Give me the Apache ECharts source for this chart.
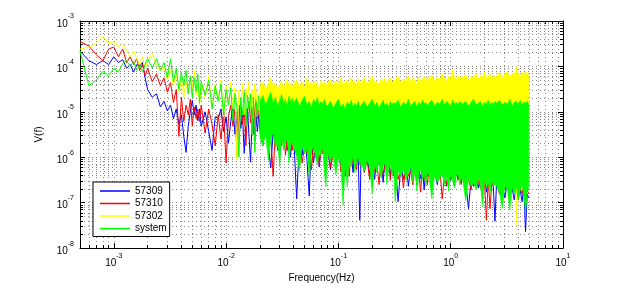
<!DOCTYPE html>
<html><head><meta charset="utf-8">
<script src="https://cdn.jsdelivr.net/npm/echarts@6/dist/echarts.min.js"></script>
<style>html,body{margin:0;padding:0;background:#fff}#c{width:621px;height:288px}</style>
</head><body><div id="c"></div>
<script>
// ---- data ----
const seriesNames = ['57309', '57310', '57302', 'system'];
const xTickLabels = ['10^-3', '10^-2', '10^-1', '10^0', '10^1'];
const yTickLabels = ['10^-8', '10^-7', '10^-6', '10^-5', '10^-4', '10^-3'];

// low-frequency part (individual lines)
const lowFreq = [0.0005,0.0006,0.0007,0.0008,0.0009,0.001,0.0011,0.0012,0.0013,0.0014,0.0015,0.0016,0.0017,0.0018,0.0019,0.002,
0.0022,0.0024,0.0026,0.0028,0.003,0.0032,0.0034,0.0036,0.0038,0.004,0.0042,0.0044,0.0046,0.0048,0.005,0.0052,0.0054,0.0056,0.0058,0.006,
0.0065,0.007,0.0075,0.008,0.0085,0.009,0.0095,0.01,0.0105,0.011,0.0115,0.012,0.0125,0.013,0.0135,0.014,0.0145,0.015,0.0155,0.016,0.0165,0.017,0.0175,0.018,0.0185,0.019,0.0195];
const blueLow = [2.19e-4,1.34e-4,1.1e-4,1.34e-4,1.1e-4,1.63e-4,1.22e-4,1.41e-4,9.1e-5,1.1e-4,7.5e-5,1.1e-4,1.0e-4,1.22e-4,5.6e-5,3.1e-5,
2.1e-5,2.5e-5,1.28e-5,1.7e-5,1.05e-5,1.41e-5,7.1e-6,1.16e-5,5.3e-6,8.6e-6,2.9e-6,1.28e-6,4.8e-6,1.0e-5,1.8e-5,8.6e-6,1.41e-5,6.4e-6,1.16e-5,4.8e-6,
1.0e-5,3.7e-6,1.41e-6,7.8e-6,7.1e-6,1.16e-5,3.7e-6,7.8e-6,2.1e-6,6.1e-6,1.28e-5,3.2e-6,7.1e-6,1.41e-5,4.3e-6,8.6e-6,1.22e-6,6.4e-6,1.16e-5,2.9e-6,7.8e-7,5.3e-6,1.0e-5,2.3e-6,7.8e-6,3.7e-6,8.6e-6];
const redLow = [3.57e-4,2.8e-4,1.8e-4,1.34e-4,2.42e-4,2.67e-4,1.63e-4,2.42e-4,1.22e-4,1.63e-4,1.1e-4,1.48e-4,8.2e-5,1.1e-4,6.1e-5,9.1e-5,
4.6e-5,6.8e-5,3.75e-5,5.6e-5,2.7e-5,4.4e-5,1.6e-5,3.1e-5,2.9e-6,2.1e-5,6.1e-6,1.41e-5,8.6e-6,1.89e-5,4.8e-6,1.28e-5,7.1e-6,1.16e-5,6.1e-6,1.41e-5,
3.4e-6,1.16e-5,5.3e-6,1.8e-6,8.6e-6,2.5e-6,1.0e-5,7.5e-7,7.8e-6,1.41e-5,4.8e-6,1.16e-5,1.1e-6,8.6e-6,1.6e-5,5.3e-6,1.16e-5,1.8e-6,9.5e-6,1.71e-5,5.8e-6,1.28e-5,3.2e-6,1.16e-5,2.1e-5,7.1e-6,1.41e-5];
const yellowLow = [2.42e-4,2.67e-4,3.24e-4,4.6e-4,3.24e-4,3.57e-4,2.67e-4,3.24e-4,2.19e-4,1.63e-4,2.19e-4,1.48e-4,1.1e-4,1.63e-4,9.1e-5,1.34e-4,
1.9e-4,1.1e-4,7.5e-5,1.0e-4,5.0e-5,8.2e-5,3.75e-5,6.8e-5,2.8e-5,5.6e-5,2.1e-5,4.6e-5,2.5e-5,6.1e-5,3.1e-5,8.2e-5,2.3e-5,5.0e-5,1.41e-5,4.1e-5,
2.1e-5,6.1e-5,1.28e-5,4.1e-5,1.71e-5,5.0e-5,7.8e-6,3.75e-5,1.41e-5,4.6e-5,1.16e-5,3.4e-5,8.6e-7,3.1e-5,1.28e-5,4.1e-5,8.6e-6,3.4e-5,1.71e-5,4.6e-5,1.16e-5,3.1e-5,7.1e-6,4.1e-5,1.55e-5,3.4e-5,1.05e-5];
const greenLow = [2.19e-4,3.75e-5,5.0e-5,7.8e-5,6.1e-5,9.1e-5,7.5e-5,1.16e-4,1.34e-4,1.0e-4,1.28e-4,8.2e-5,1.1e-4,7.5e-5,1.1e-4,1.48e-4,
9.1e-5,1.48e-4,8.2e-5,1.22e-4,5.6e-5,1.48e-4,4.6e-5,9.1e-5,3.1e-5,7.5e-5,3.75e-5,8.2e-5,2.5e-5,6.1e-5,2.1e-5,5.6e-5,2.8e-5,6.8e-5,1.55e-5,4.6e-5,
2.3e-5,5.0e-5,1.16e-5,3.75e-5,1.71e-5,4.1e-5,8.6e-6,3.1e-5,1.41e-5,3.4e-5,6.4e-6,2.5e-5,1.16e-5,1.0e-6,2.1e-5,8.6e-6,2.8e-5,4.8e-6,2.3e-5,1.16e-5,2.5e-5,3.2e-6,2.1e-5,1.28e-6,1.71e-5,7.8e-6,2.3e-5];

// dense part (0.02 Hz .. 5 Hz)
const hiFreq = [0.02,0.02125,0.0225,0.02375,0.025,0.02625,0.0275,0.02875,0.03,0.03125,0.0325,0.03375,0.035,0.03625,0.0375,0.03875,
0.04,0.0425,0.045,0.0475,0.05,0.0525,0.055,0.0575,0.06,0.0625,0.065,0.0675,0.07,0.0725,0.075,0.0775,
0.08,0.085,0.09,0.095,0.1,0.105,0.11,0.115,0.12,0.125,0.13,0.135,0.14,0.145,0.15,0.155,
0.16,0.17,0.18,0.19,0.2,0.21,0.22,0.23,0.24,0.25,0.26,0.27,0.28,0.29,0.3,0.31,
0.32,0.34,0.36,0.38,0.4,0.42,0.44,0.46,0.48,0.5,0.52,0.54,0.56,0.58,0.6,0.62,
0.64,0.68,0.72,0.76,0.8,0.84,0.88,0.92,0.96,1.0,1.04,1.08,1.12,1.16,1.2,1.24,
1.28,1.36,1.44,1.52,1.6,1.68,1.76,1.84,1.92,2.0,2.08,2.16,2.24,2.32,2.4,2.48,
2.56,2.72,2.88,3.04,3.2,3.36,3.52,3.68,3.84,4.0,4.16,4.32,4.48,4.64,4.8,4.96];
const blueHi = [4.8e-6,2.3e-6,6.1e-6,1.8e-6,5.8e-7,3.75e-6,1.8e-6,5.3e-6,1.1e-6,3.2e-6,2.0e-6,4.3e-6,1.41e-6,2.9e-6,1.0e-6,3.6e-6,
2.9e-6,1.22e-7,2.3e-6,1.1e-6,3.2e-6,8.6e-7,1.41e-7,2.7e-6,7.5e-7,1.8e-6,2.9e-6,6.1e-7,2.0e-6,1.22e-6,2.3e-6,1.0e-6,
1.8e-6,5.3e-7,2.0e-6,1.1e-6,1.63e-6,6.8e-7,1.41e-6,3.8e-7,1.8e-6,8.2e-7,1.22e-6,4.6e-7,1.63e-6,8.6e-7,1.1e-6,4.1e-8,
1.8e-6,6.1e-7,1.1e-6,4.1e-7,1.41e-6,3.25e-7,1.0e-6,6.8e-7,1.22e-6,2.8e-7,8.6e-7,5.0e-7,1.1e-6,3.8e-7,7.5e-7,4.6e-7,
8.6e-7,1.05e-7,6.8e-7,3.25e-7,7.5e-7,2.3e-7,6.1e-7,4.1e-7,8.2e-7,2.5e-7,5.3e-7,3.4e-7,6.8e-7,1.9e-7,5.6e-7,3.8e-7,
6.1e-7,3.4e-7,5.0e-7,2.5e-7,6.8e-7,3.8e-7,4.1e-7,2.3e-7,5.6e-7,3.1e-7,4.6e-7,2.8e-7,6.1e-7,3.4e-7,4.1e-7,2.8e-7,
4.6e-7,2.8e-7,7.4e-8,3.4e-7,2.3e-7,4.1e-7,2.1e-7,3.4e-7,2.5e-7,3.8e-7,1.7e-7,3.1e-7,2.5e-7,4.1e-7,2.1e-7,3.9e-8,
2.8e-7,1.7e-7,2.3e-7,1.28e-7,3.1e-7,1.55e-7,2.1e-7,1.16e-7,2.5e-7,1.41e-7,1.9e-7,1.05e-7,2.3e-7,2.3e-8,1.55e-7,1.28e-7];
const redHi = [3.75e-6,1.8e-6,5.3e-6,2.2e-6,2.9e-6,3.8e-7,4.3e-6,1.41e-6,3.2e-6,1.8e-6,4.8e-6,1.1e-6,2.7e-6,2.0e-6,3.6e-6,1.41e-6,
2.3e-6,1.1e-6,2.9e-6,7.5e-7,1.8e-6,1.22e-6,2.7e-6,5.3e-7,2.0e-6,1.0e-6,2.9e-6,6.8e-7,1.63e-6,1.22e-6,2.2e-6,8.6e-7,
1.8e-6,6.1e-7,1.22e-6,8.2e-7,1.8e-6,5.0e-7,1.1e-6,6.8e-7,1.41e-6,3.8e-7,1.8e-6,7.5e-7,1.0e-6,5.3e-7,1.41e-6,6.8e-7,
1.1e-6,4.6e-7,8.6e-7,3.25e-7,1.22e-6,5.0e-7,7.5e-7,2.5e-7,1.0e-6,4.1e-7,6.8e-7,4.6e-7,1.1e-6,3.1e-7,8.6e-7,3.8e-7,
7.5e-7,3.25e-7,6.1e-7,2.1e-7,8.6e-7,3.8e-7,5.0e-7,2.5e-7,6.8e-7,3.1e-7,4.6e-7,1.7e-7,7.5e-7,3.4e-7,5.3e-7,2.5e-7,
5.3e-7,3.1e-7,4.6e-7,3.4e-7,6.1e-7,1.22e-7,4.1e-7,2.5e-7,5.0e-7,3.4e-7,3.8e-7,2.3e-7,5.6e-7,3.1e-7,4.1e-7,2.5e-7,
4.1e-7,2.5e-7,3.4e-7,1.9e-7,4.6e-7,2.5e-7,3.1e-7,2.1e-7,3.8e-7,2.8e-7,4.1e-8,3.4e-7,7.4e-8,2.8e-7,2.3e-7,2.8e-7,
3.1e-7,1.55e-7,2.5e-7,1.9e-7,3.4e-7,1.28e-7,2.3e-7,1.7e-7,2.8e-7,1.16e-7,2.1e-7,1.55e-7,2.5e-7,1.41e-7,1.9e-7,1.55e-7];
const yellowMax = [3.75e-5,4.6e-5,3.2e-5,4.1e-5,5.6e-5,3.6e-5,4.35e-5,3.1e-5,3.95e-5,4.8e-5,3.4e-5,4.1e-5,5.3e-5,3.75e-5,4.35e-5,3.4e-5,
4.1e-5,5.0e-5,3.6e-5,4.6e-5,3.4e-5,5.8e-5,3.95e-5,4.6e-5,3.75e-5,4.8e-5,4.1e-5,3.2e-5,5.0e-5,3.95e-5,4.6e-5,3.75e-5,
4.35e-5,5.3e-5,3.75e-5,4.8e-5,4.1e-5,5.6e-5,3.95e-5,4.6e-5,5.0e-5,3.75e-5,5.8e-5,4.35e-5,4.8e-5,3.95e-5,5.3e-5,4.1e-5,
4.6e-5,5.6e-5,4.1e-5,5.0e-5,6.1e-5,4.35e-5,4.8e-5,3.95e-5,5.3e-5,4.6e-5,5.6e-5,4.1e-5,5.0e-5,5.8e-5,4.35e-5,4.8e-5,
5.0e-5,6.1e-5,4.35e-5,5.3e-5,4.8e-5,6.4e-5,4.6e-5,5.6e-5,5.0e-5,4.1e-5,5.8e-5,4.8e-5,5.3e-5,6.1e-5,4.6e-5,5.6e-5,
5.3e-5,6.4e-5,4.8e-5,5.8e-5,5.0e-5,6.8e-5,5.6e-5,4.6e-5,6.1e-5,5.3e-5,8.6e-5,5.8e-5,5.0e-5,6.4e-5,5.6e-5,6.1e-5,
5.8e-5,6.8e-5,5.0e-5,6.1e-5,5.6e-5,7.1e-5,5.3e-5,6.4e-5,5.8e-5,7.5e-5,5.6e-5,6.1e-5,6.8e-5,5.3e-5,6.4e-5,5.8e-5,
6.1e-5,7.5e-5,5.6e-5,6.8e-5,7.8e-5,5.8e-5,7.1e-5,6.4e-5,1.0e-4,6.8e-5,6.1e-5,7.5e-5,6.4e-5,7.8e-5,6.8e-5,7.1e-5];
const yellowMin = [7.1e-6,4.8e-6,8.6e-6,5.8e-6,3.9e-6,7.8e-6,5.3e-6,6.4e-6,4.3e-6,8.2e-6,5.6e-6,3.75e-6,7.4e-6,5.0e-6,6.1e-6,4.6e-6,
6.4e-6,4.3e-6,7.8e-6,5.3e-6,3.6e-6,7.1e-6,4.8e-6,5.8e-6,7.4e-6,4.1e-6,5.6e-6,6.8e-6,4.6e-6,6.1e-6,5.0e-6,3.9e-6,
5.8e-6,7.4e-6,4.6e-6,6.4e-6,5.3e-6,3.75e-6,7.1e-6,4.8e-6,5.6e-6,4.1e-6,6.4e-6,5.0e-6,7.4e-6,4.3e-6,5.8e-6,4.8e-6,
6.1e-6,4.6e-6,7.1e-6,5.3e-6,3.9e-6,6.4e-6,4.8e-6,5.8e-6,7.4e-6,4.1e-6,5.6e-6,5.0e-6,6.8e-6,4.6e-6,5.8e-6,5.3e-6,
6.4e-6,4.8e-6,5.8e-6,7.1e-6,4.3e-6,5.6e-6,6.1e-6,4.6e-6,6.8e-6,5.0e-6,3.9e-6,5.8e-6,7.4e-6,4.8e-6,5.3e-6,6.1e-6,
5.6e-6,6.8e-6,4.6e-6,5.8e-6,5.0e-6,7.1e-6,4.1e-6,6.1e-6,5.3e-6,6.4e-6,4.8e-6,5.6e-6,4.3e-6,7.4e-6,5.0e-6,5.8e-6,
6.1e-6,4.6e-6,6.4e-6,5.3e-6,7.1e-6,4.8e-6,5.8e-6,4.1e-6,5.6e-6,6.8e-6,5.0e-6,6.1e-6,4.6e-6,5.8e-6,5.3e-6,6.4e-6,
5.8e-6,4.8e-6,6.8e-6,5.3e-6,4.3e-6,6.1e-6,5.0e-6,6.4e-6,3.2e-8,5.6e-6,4.6e-6,6.1e-6,5.0e-6,6.8e-6,5.3e-6,5.8e-6];
const greenMax = [1.7e-5,2.3e-5,1.41e-5,2.0e-5,2.7e-5,1.55e-5,2.1e-5,1.28e-5,1.8e-5,2.4e-5,1.48e-5,1.9e-5,1.34e-5,2.2e-5,1.63e-5,2.0e-5,
1.55e-5,2.0e-5,1.34e-5,1.8e-5,2.2e-5,1.41e-5,1.7e-5,1.22e-5,1.9e-5,1.55e-5,2.1e-5,1.34e-5,1.7e-5,1.48e-5,1.9e-5,1.41e-5,
1.34e-5,1.7e-5,1.22e-5,1.55e-5,1.9e-5,1.28e-5,1.48e-5,1.16e-5,1.63e-5,1.41e-5,1.8e-5,1.28e-5,1.55e-5,1.34e-5,1.7e-5,1.22e-5,
1.41e-5,1.7e-5,1.28e-5,1.55e-5,1.9e-5,1.34e-5,1.63e-5,1.22e-5,1.48e-5,1.8e-5,1.34e-5,1.55e-5,1.28e-5,1.7e-5,1.41e-5,1.63e-5,
1.48e-5,1.8e-5,1.28e-5,1.63e-5,1.41e-5,1.9e-5,1.34e-5,1.55e-5,1.7e-5,1.28e-5,1.63e-5,1.41e-5,1.8e-5,1.48e-5,1.63e-5,1.34e-5,
1.55e-5,1.8e-5,1.34e-5,1.63e-5,1.48e-5,1.9e-5,1.41e-5,1.7e-5,1.55e-5,1.34e-5,1.8e-5,1.48e-5,1.63e-5,1.41e-5,1.7e-5,1.55e-5,
1.48e-5,1.7e-5,1.34e-5,1.63e-5,1.9e-5,1.41e-5,1.55e-5,1.7e-5,1.34e-5,1.63e-5,1.48e-5,1.8e-5,1.41e-5,1.63e-5,1.48e-5,1.7e-5,
1.55e-5,1.8e-5,1.41e-5,1.63e-5,1.48e-5,1.9e-5,1.34e-5,1.63e-5,1.7e-5,1.48e-5,1.8e-5,1.41e-5,1.63e-5,1.55e-5,1.7e-5,1.48e-5];
const greenMin = [2.7e-6,1.8e-6,3.2e-6,8.6e-7,2.4e-6,3.6e-6,1.63e-6,2.2e-6,6.1e-7,2.9e-6,1.41e-6,2.0e-6,2.5e-6,7.5e-7,1.8e-6,2.3e-6,
1.63e-6,1.1e-6,5.0e-7,1.8e-6,1.22e-6,1.48e-6,3.4e-7,1.34e-6,1.8e-6,1.0e-6,6.8e-7,1.41e-6,1.1e-6,1.63e-6,4.6e-7,2.2e-7,
1.22e-6,8.2e-7,1.1e-6,4.1e-7,1.0e-6,7.5e-7,8.6e-8,6.8e-7,2.2e-7,9.1e-7,6.1e-7,1.1e-6,4.6e-7,8.2e-7,1.0e-6,6.8e-7,
7.5e-7,5.0e-7,8.6e-7,6.1e-7,1.55e-7,6.8e-7,4.6e-7,8.2e-7,3.4e-7,6.1e-7,7.5e-7,2.5e-7,5.6e-7,7.1e-7,4.1e-7,6.1e-7,
1.05e-7,5.0e-7,3.8e-7,5.6e-7,3.1e-7,4.6e-7,6.1e-7,2.8e-7,5.0e-7,1.8e-7,4.1e-7,5.6e-7,3.1e-7,4.6e-7,2.3e-7,5.0e-7,
3.8e-7,1.22e-7,4.1e-7,2.8e-7,3.4e-7,4.6e-7,2.3e-7,3.8e-7,1.8e-7,4.1e-7,3.1e-7,2.1e-7,3.8e-7,4.6e-7,2.5e-7,3.4e-7,
3.1e-7,1.1e-7,3.4e-7,2.3e-7,2.8e-7,1.9e-7,3.4e-7,2.5e-7,8.2e-8,3.1e-7,2.1e-7,2.8e-7,1.55e-7,3.1e-7,2.3e-7,2.5e-7,
2.3e-7,1.7e-7,7.4e-8,2.5e-7,1.9e-7,6.8e-8,2.1e-7,1.55e-7,2.3e-7,1.16e-7,1.9e-7,2.5e-7,1.41e-7,5.8e-8,1.7e-7,2.1e-7];

// ---- chart ----
const FONT = 'Liberation Sans, Arial, Helvetica, sans-serif';
const colors = {'57309': '#0000ff', '57310': '#ff0000', '57302': '#ffff00', 'system': '#00ff00'};

function pairs(xs, ys) { return xs.map((x, i) => [x, ys[i]]); }
function bandData(xs, lo, hi) { return xs.map((x, i) => [x, lo[i], hi[i]]); }

function bandRender(color) {
  return function (params, api) {
    if (params.dataIndexInside !== 0) return null;
    const n = params.dataInsideLength;
    const top = [], bot = [];
    for (let i = 0; i < n; i++) {
      const x = api.value(0, i);
      top.push(api.coord([x, api.value(2, i)]));
      bot.push(api.coord([x, api.value(1, i)]));
    }
    const pts = top.concat(bot.reverse());
    return { type: 'polygon', shape: { points: pts }, style: { fill: color, stroke: color, lineWidth: 0.6 } };
  };
}

function powLabel(v) {
  const l = Math.log10(v);
  const e = Math.round(l);
  if (Math.abs(l - e) > 1e-6) return '';
  return '{b|10}{e|' + e + '}';
}
const richLbl = {
  b: { fontSize: 10, fontFamily: FONT, color: '#000', lineHeight: 16, verticalAlign: 'bottom' },
  e: { fontSize: 7, fontFamily: FONT, color: '#000', lineHeight: 9, verticalAlign: 'top' }
};
const gridLine = { show: true, lineStyle: { color: '#858585', width: 1, type: [1, 3] } };

function logAxis(extra) {
  return Object.assign({
    type: 'log', logBase: 10,
    axisLine: { show: true, onZero: false, lineStyle: { color: '#000', width: 1 } },
    axisTick: { show: true, inside: true, length: 5, lineStyle: { color: '#000' } },
    minorTick: { show: true, splitNumber: 9, length: 3, lineStyle: { color: '#000' } },
    splitLine: { show: false },
    minorSplitLine: { show: false },
    axisLabel: { show: false }
  }, extra);
}

const chart = echarts.init(document.getElementById('c'), null, { renderer: 'canvas' });
chart.setOption({
  animation: false,
  backgroundColor: '#fff',
  textStyle: { fontFamily: FONT },
  grid: { left: 80, top: 21, width: 483, height: 235, containLabel: false },
  xAxis: [
    logAxis({ min: 5e-4, max: 10, position: 'bottom',
      name: 'Frequency(Hz)', nameLocation: 'middle', nameGap: 20,
      nameTextStyle: { fontSize: 10, color: '#000', fontFamily: FONT },
      splitLine: gridLine, minorSplitLine: gridLine,
      axisLabel: { show: true, margin: 4, formatter: powLabel, rich: richLbl } }),
    logAxis({ min: 5e-4, max: 10, position: 'top' })
  ],
  yAxis: [
    logAxis({ min: 1e-8, max: 1e-3, position: 'left',
      name: 'V(f)', nameLocation: 'middle', nameGap: 36,
      nameTextStyle: { fontSize: 10, color: '#000', fontFamily: FONT },
      splitLine: gridLine, minorSplitLine: gridLine,
      axisLabel: { show: true, margin: 6, formatter: powLabel, rich: richLbl } }),
    logAxis({ min: 1e-8, max: 1e-3, position: 'right' })
  ],
  legend: {
    left: 93, top: 182, orient: 'vertical', z: 20,
    padding: [4, 3, 3, 7], itemGap: 2.5, itemWidth: 30, itemHeight: 1.5,
    backgroundColor: '#fff', borderColor: '#000', borderWidth: 1, borderRadius: 0,
    textStyle: { fontSize: 10, color: '#000', fontFamily: FONT },
    data: seriesNames.map(n => ({ name: n, icon: 'rect' }))
  },
  series: [
    { name: '57309', type: 'line', z: 2, symbol: 'none', color: colors['57309'],
      lineStyle: { width: 1, color: colors['57309'] },
      data: pairs(lowFreq, blueLow).concat(pairs(hiFreq, blueHi)) },
    { name: '57310', type: 'line', z: 3, symbol: 'none', color: colors['57310'],
      lineStyle: { width: 1, color: colors['57310'] },
      data: pairs(lowFreq, redLow).concat(pairs(hiFreq, redHi)) },
    { name: '57302', type: 'line', z: 4, symbol: 'none', color: colors['57302'],
      lineStyle: { width: 1, color: colors['57302'] },
      data: pairs(lowFreq, yellowLow) },
    { name: '57302', type: 'custom', z: 4, color: colors['57302'],
      renderItem: bandRender(colors['57302']), encode: { x: 0, y: [1, 2] },
      data: bandData(hiFreq, yellowMin, yellowMax) },
    { name: 'system', type: 'line', z: 5, symbol: 'none', color: colors['system'],
      lineStyle: { width: 1, color: colors['system'] },
      data: pairs(lowFreq, greenLow) },
    { name: 'system', type: 'custom', z: 5, color: colors['system'],
      renderItem: bandRender(colors['system']), encode: { x: 0, y: [1, 2] },
      data: bandData(hiFreq, greenMin, greenMax) }
  ]
});
</script>
</body></html>
